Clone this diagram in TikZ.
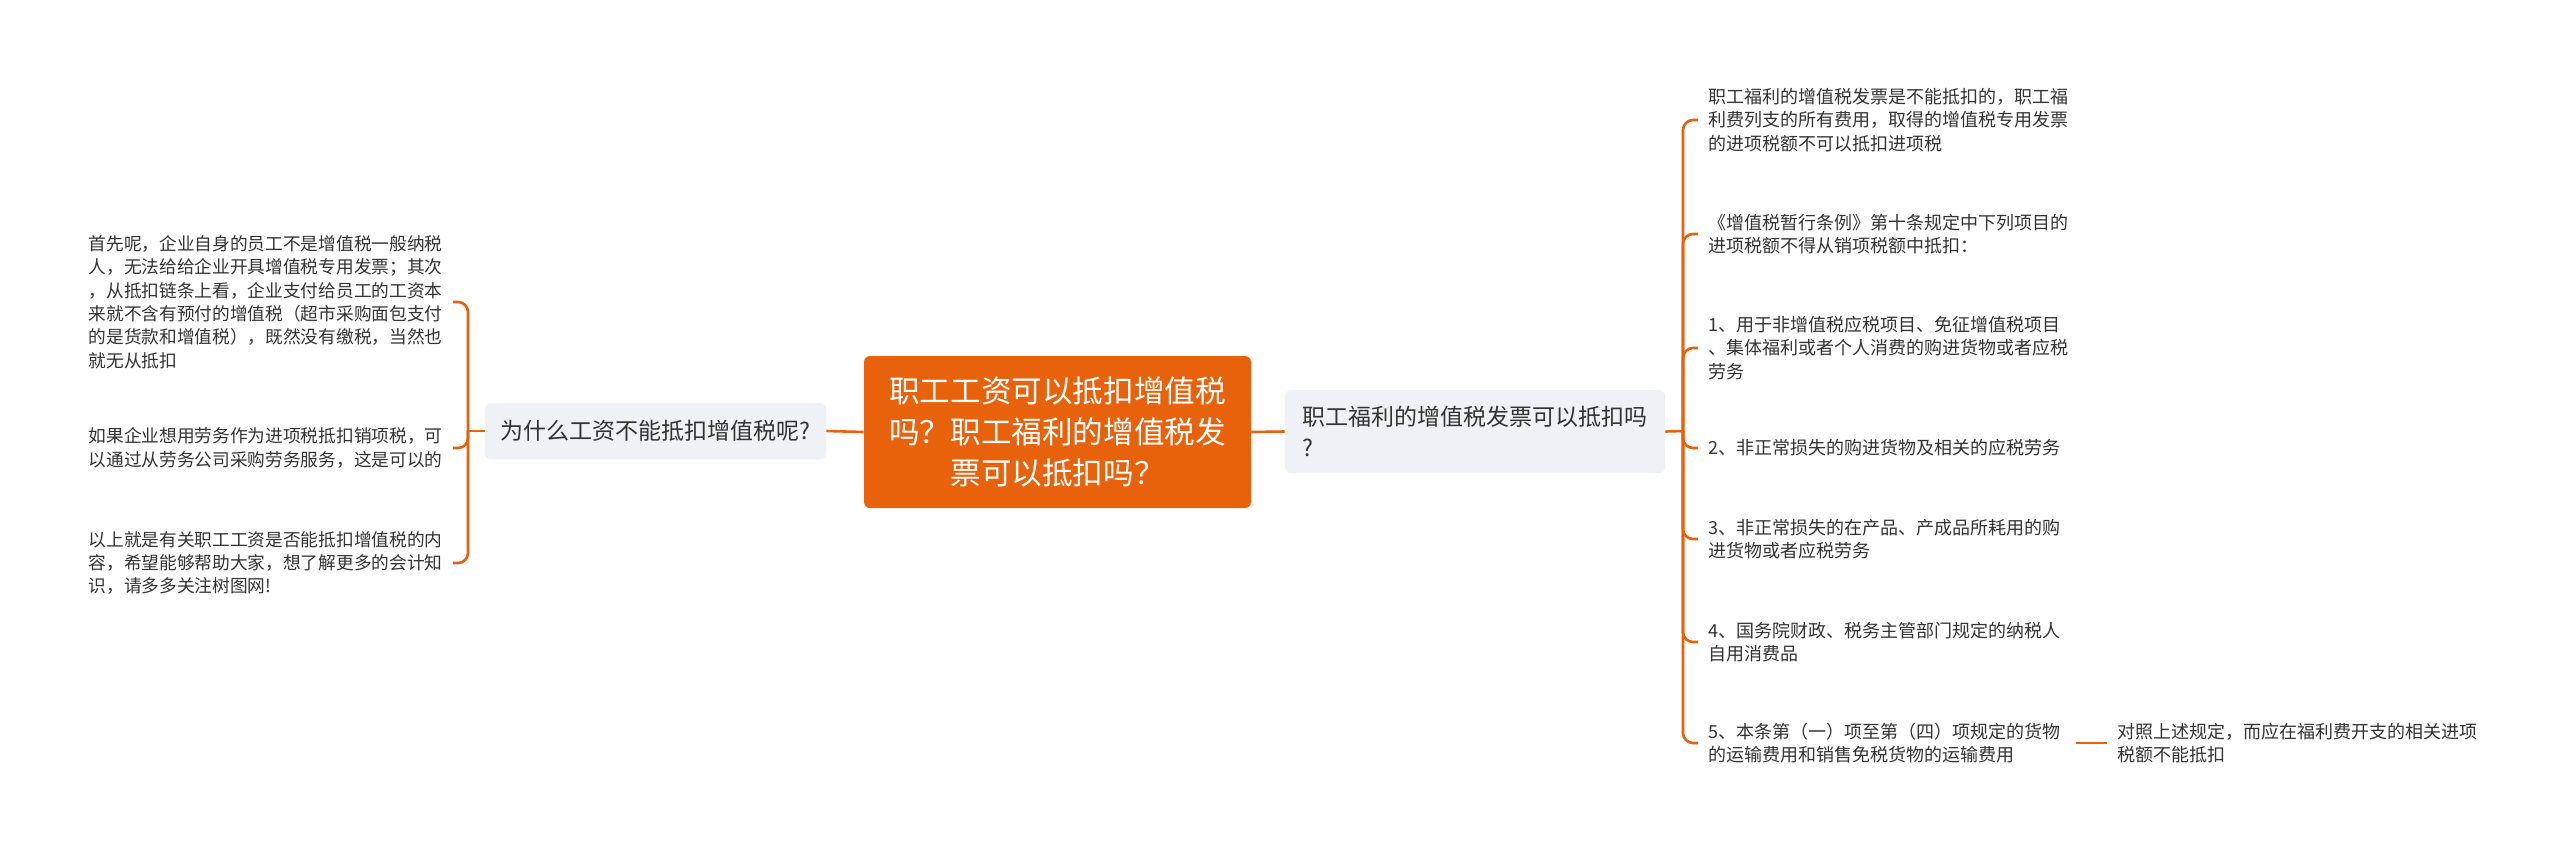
\documentclass[tikz,border=0pt]{standalone}
\usepackage{fontspec}
\setmainfont{Noto Sans CJK SC}
\definecolor{zhu}{HTML}{E8620C}
\definecolor{hui}{HTML}{EEF1F5}
\definecolor{zi}{HTML}{333333}
\begin{document}
\begin{tikzpicture}[x=0.5pt,y=-0.5pt,
		branch/.style={draw=zhu,line width=1.3pt},
		fork/.style={branch,rounded corners=5pt},
		rootbox/.style={fill=zhu,text=white,rounded corners=3pt,align=center,minimum width=193.5pt,minimum height=76pt,font=\fontsize{15.3}{20.4}\selectfont},
		topicbox/.style={fill=hui,text=zi,rounded corners=3pt,align=left,font=\fontsize{11.5}{15.5}\selectfont},
		leaftext/.style={text=zi,align=left,inner sep=5pt,font=\fontsize{9}{11.65}\selectfont},
		leftleaf/.style={leaftext,anchor=east,font=\fontsize{8.85}{11.65}\selectfont}]
		\fill[white] (0,0) rectangle (2560,853);
		\node[rootbox] (zt) at (1057.5,432) {职工工资可以抵扣增值税\\吗？职工福利的增值税发\\票可以抵扣吗？};
		\node[topicbox,minimum width=170.5pt,minimum height=28pt] (wz) at (655.5,431) {为什么工资不能抵扣增值税呢?};
		\node[topicbox,minimum width=190pt,minimum height=41.5pt] (fl) at (1475,431.5) {职工福利的增值税发票可以抵扣吗\\?};
		\node[leftleaf] (l1) at (453,302) {首先呢，企业自身的员工不是增值税一般纳税\\人，无法给给企业开具增值税专用发票；其次\\，从抵扣链条上看，企业支付给员工的工资本\\来就不含有预付的增值税（超市采购面包支付\\的是货款和增值税），既然没有缴税，当然也\\就无从抵扣};
		\node[leftleaf] (l2) at (453,448) {如果企业想用劳务作为进项税抵扣销项税，可\\以通过从劳务公司采购劳务服务，这是可以的};
		\node[leftleaf] (l3) at (453,563) {以上就是有关职工工资是否能抵扣增值税的内\\容，希望能够帮助大家，想了解更多的会计知\\识，请多多关注树图网!};
		\node[leaftext,anchor=west] (r1) at (1698,120) {职工福利的增值税发票是不能抵扣的，职工福\\利费列支的所有费用，取得的增值税专用发票\\的进项税额不可以抵扣进项税};
		\node[leaftext,anchor=west] (r2) at (1698,234) {《增值税暂行条例》第十条规定中下列项目的\\进项税额不得从销项税额中抵扣：};
		\node[leaftext,anchor=west] (r3) at (1698,348) {1、用于非增值税应税项目、免征增值税项目\\、集体福利或者个人消费的购进货物或者应税\\劳务};
		\node[leaftext,anchor=west] (r4) at (1698,448) {2、非正常损失的购进货物及相关的应税劳务};
		\node[leaftext,anchor=west] (r5) at (1698,539) {3、非正常损失的在产品、产成品所耗用的购\\进货物或者应税劳务};
		\node[leaftext,anchor=west] (r6) at (1698,642) {4、国务院财政、税务主管部门规定的纳税人\\自用消费品};
		\node[leaftext,anchor=west] (r7) at (1698,743) {5、本条第（一）项至第（四）项规定的货物\\的运输费用和销售免税货物的运输费用};
		\node[leaftext,anchor=west] (r8) at (2107,743) {对照上述规定，而应在福利费开支的相关进项\\税额不能抵扣};
		\coordinate (lb) at (468,431);
		\coordinate (rb) at (1683,431);
		\draw[branch] (zt.west) -- (wz.east);
		\draw[branch] (zt.east) -- (fl.west);
		\draw[branch] (wz.west) -- (lb);
		\draw[branch] (fl.east) -- (rb);
		\foreach \n in {l1,l2,l3}
			\draw[fork] (lb) |- (\n.east);
		\foreach \n in {r1,r2,r3,r4,r5,r6,r7}
			\draw[fork] (rb) |- (\n.west);
		\draw[branch] ([xshift=2.5pt]r7.east) -- (r8.west);
\end{tikzpicture}
\end{document}
